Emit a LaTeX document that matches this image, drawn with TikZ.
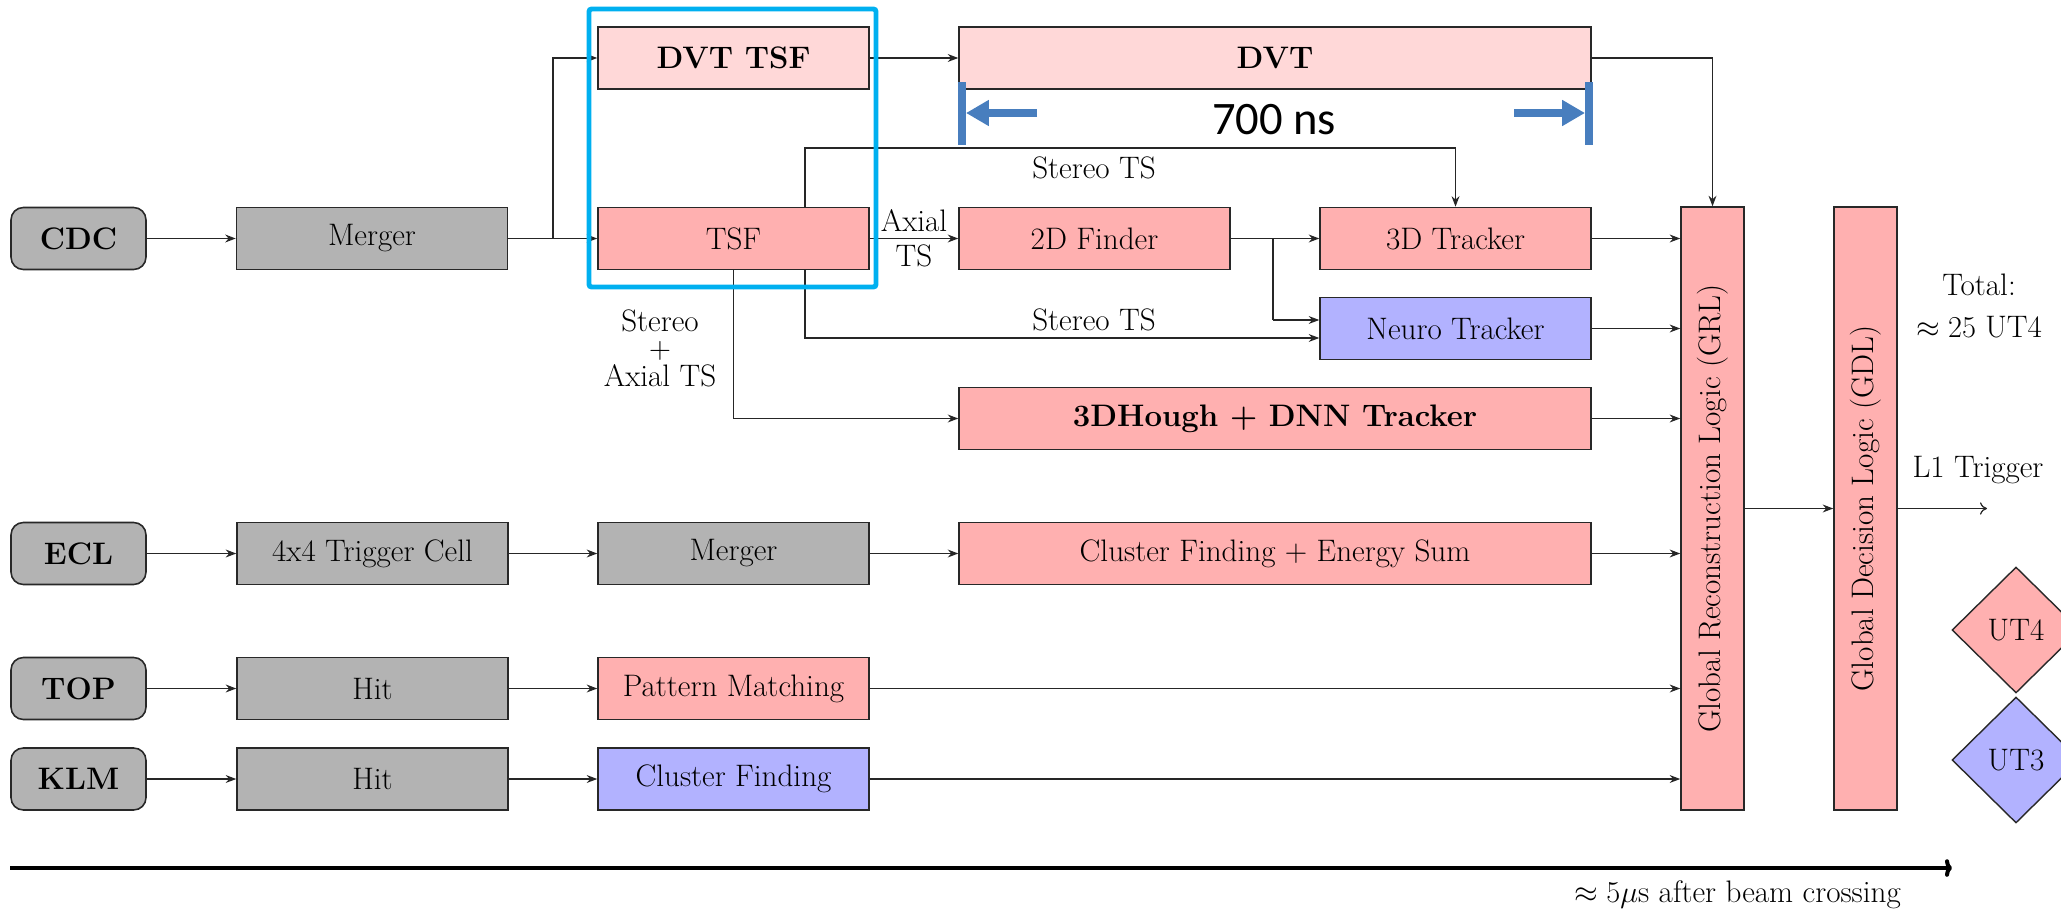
\documentclass[tikz,border=0pt]{standalone}
\usepackage{fontspec}
\newfontfamily\calib{Carlito}
\usetikzlibrary{arrows.meta,shapes.geometric,calc}

\definecolor{boxgray}{RGB}{179,179,179}
\definecolor{trgred}{RGB}{255,176,176}
\definecolor{trglight}{RGB}{255,216,216}
\definecolor{trgblue}{RGB}{178,178,255}
\definecolor{hilite}{RGB}{0,176,240}
\definecolor{spanblue}{RGB}{72,126,190}
\definecolor{edge}{RGB}{40,40,40}

\begin{document}
\begin{tikzpicture}[x=0.02cm,y=-0.02cm,
  font=\fontsize{17.7}{21}\selectfont,
  blk/.style={draw=edge, line width=0.9pt, inner sep=0pt,
              minimum height=1.24cm, minimum width=5.42cm},
  detbox/.style={blk, fill=boxgray, rounded corners=7pt, minimum width=2.7cm,
                 font=\fontsize{17.7}{21}\selectfont\bfseries},
  graybox/.style={blk, fill=boxgray},
  redbox/.style={blk, fill=trgred},
  lightbox/.style={blk, fill=trglight},
  bluebox/.style={blk, fill=trgblue},
  widebox/.style={minimum width=12.64cm},
  boldtxt/.style={font=\fontsize{17.7}{21}\selectfont\bfseries},
  tallbox/.style={redbox, minimum width=1.26cm, minimum height=12.06cm},
  conn/.style={draw=black!85, line width=0.7pt, -{Stealth[length=6pt,width=4.5pt]}},
  plainln/.style={draw=black!85, line width=0.7pt},
  utbox/.style={diamond, draw=edge, line width=0.8pt, inner sep=0pt,
                minimum width=2.56cm, minimum height=2.52cm},
]
\clip (0,0) rectangle (2061,909);

% --- CDC chain ---
\node[detbox] (cdc) at (78.5,238.5) {CDC};
\node[graybox] (merg) at (372,238.5) {Merger};
\node[lightbox, boldtxt] (dvttsf) at (733.5,58) {DVT TSF};
\node[redbox] (tsf) at (733.5,238.5) {TSF};
\node[lightbox, widebox, boldtxt] (dvt) at (1275,58) {DVT};
\node[redbox] (f2d) at (1094.5,238.5) {2D Finder};
\node[redbox] (t3d) at (1455.5,238.5) {3D Tracker};
\node[bluebox] (neuro) at (1455.5,328.5) {Neuro Tracker};
\node[redbox, widebox, boldtxt] (hough) at (1275,418.5) {3DHough + DNN Tracker};

% --- global logic ---
\node[tallbox] (grl) at (1712.5,508.5) {\rotatebox{90}{Global Reconstruction Logic (GRL)}};
\node[tallbox] (gdl) at (1865.5,508.5) {\rotatebox{90}{Global Decision Logic (GDL)}};

% --- ECL chain ---
\node[detbox] (ecl) at (78.5,553.5) {ECL};
\node[graybox] (cell) at (372.5,553.5) {4x4 Trigger Cell};
\node[graybox] (merg2) at (733.5,553.5) {Merger};
\node[redbox, widebox] (clus) at (1275,553.5) {Cluster Finding + Energy Sum};

% --- TOP chain ---
\node[detbox] (top) at (78.5,688.5) {TOP};
\node[graybox] (hit1) at (372.5,688.5) {Hit};
\node[redbox] (pm) at (733.5,688.5) {Pattern Matching};

% --- KLM chain ---
\node[detbox] (klm) at (78.5,779) {KLM};
\node[graybox] (hit2) at (372.5,779) {Hit};
\node[bluebox] (cf) at (733.5,779) {Cluster Finding};

% --- legend ---
\node[utbox, fill=trgred] (ut4) at (2016,630) {UT4};
\node[utbox, fill=trgblue] (ut3) at (2016,760) {UT3};
\node[align=center, font=\fontsize{17.7}{24}\selectfont] (total) at (1979,306)
  {Total:\\$\approx 25$ UT4};

% --- CDC connectors ---
\coordinate (jn) at (553,238.5);
\draw[conn] (cdc) -- (merg);
\draw[plainln] (merg.east) -- (jn);
\draw[conn] (jn) -- (tsf.west);
\draw[conn] (jn) |- (dvttsf.west);
\draw[conn] (dvttsf) -- (dvt);
\draw[conn] (dvt.east) -| (grl.north);
\draw[conn] (tsf) -- node[above] (axl) {Axial} node[below] (axts) {TS} (f2d);

\coordinate (sx) at (805,148);
\draw[conn] (tsf.north -| sx) -- (sx) -| (t3d.north);
\node (st1) at (1094,168) {Stereo TS};

\coordinate (sy) at (805,338);
\draw[conn] (tsf.south -| sy) -- (sy) -- (neuro.west |- sy);
\node (st2) at (1094,320) {Stereo TS};

\draw[conn] (tsf.south) |- (hough.west);
\node[align=center, font=\fontsize{17.7}{15.6}\selectfont] (sat) at (660,348)
  {Stereo\\$+$\\Axial TS};

\coordinate (jn2) at (1273,238.5);
\coordinate (nin) at (1273,320);
\draw[conn] (f2d) -- (t3d);
\draw[plainln] (jn2) -- (nin);
\draw[conn] (nin) -- (neuro.west |- nin);

% --- into GRL ---
\draw[conn] (t3d) -- (t3d -| grl.west);
\draw[conn] (neuro) -- (neuro -| grl.west);
\draw[conn] (hough) -- (hough -| grl.west);
\draw[conn] (clus) -- (clus -| grl.west);
\draw[conn] (pm) -- (pm -| grl.west);
\draw[conn] (cf) -- (cf -| grl.west);

% --- other chains ---
\draw[conn] (ecl) -- (cell);
\draw[conn] (cell) -- (merg2);
\draw[conn] (merg2) -- (clus);
\draw[conn] (top) -- (hit1);
\draw[conn] (hit1) -- (pm);
\draw[conn] (klm) -- (hit2);
\draw[conn] (hit2) -- (cf);

% --- decision ---
\draw[conn] (grl) -- (gdl);
\coordinate (l1) at (1987,508.5);
\draw[plainln, -{To[length=4pt,width=7pt]}] (gdl) -- (l1);
\node (l1lbl) at (1978,470) {L1 Trigger};

% --- time axis ---
\coordinate (t0) at (10,868);
\coordinate (t1) at (1952,868);
\draw[line width=2.3pt, -{To[length=4pt,width=10pt]}] (t0) -- (t1);
\node[anchor=east] (tlbl) at (1907,895) {$\approx 5\mu$s after beam crossing};

% --- DVT latency span ---
\fill[spanblue] (958,82) rectangle (966,145);
\fill[spanblue] (1585,82) rectangle (1593,145);
\draw[spanblue, line width=4pt, -{Triangle[length=13pt,width=14pt]}] (1037,113) -- (966,113);
\draw[spanblue, line width=4pt, -{Triangle[length=13pt,width=14pt]}] (1514,113) -- (1585,113);
\node[font=\calib\fontsize{26.5}{30}\selectfont] (lat) at (1274,120) {700 ns};

% --- TSF group frame ---
\draw[hilite, line width=2.8pt, rounded corners=1.5pt] (589,9) rectangle (876,287);
\end{tikzpicture}
\end{document}
